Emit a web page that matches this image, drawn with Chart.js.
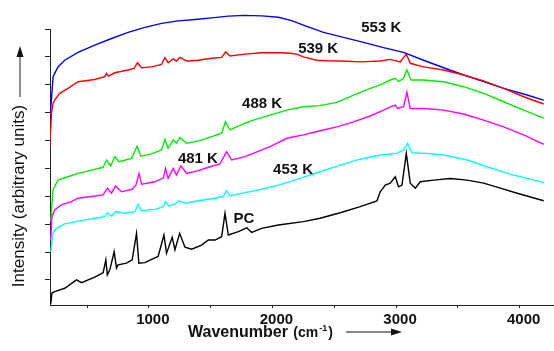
<!DOCTYPE html>
<html>
<head>
<meta charset="utf-8">
<script src="https://cdn.jsdelivr.net/npm/chart.js@4/dist/chart.umd.min.js"></script>
<style>
  html, body { margin: 0; padding: 0; background: #fff; }
  canvas { display: block; }
</style>
</head>
<body>
<canvas id="spectra" width="554" height="351"></canvas>
<script>
// wavenumber (cm-1) and intensity (arbitrary units)
const pcWave = [206, 216, 238, 319, 414, 455, 562, 630, 652, 664, 684, 719, 738, 751, 819, 865, 900, 919, 968, 1022, 1075, 1122, 1143, 1189, 1211, 1249, 1292, 1346, 1427, 1481, 1535, 1589, 1616, 1643, 1724, 1792, 1832, 1913, 2048, 2250, 2386, 2548, 2710, 2845, 2872, 2913, 2953, 2994, 3020, 3048, 3083, 3115, 3156, 3196, 3304, 3439, 3575, 3709, 3844, 3980, 4195];
const pcInt  = [-0.86, -0.47, -0.42, -0.30, 0.00, -0.10, 0.10, 0.26, 0.72, 0.18, 0.36, 1.01, 0.43, 0.54, 0.60, 0.72, 1.67, 0.60, 0.62, 0.74, 0.84, 1.61, 0.96, 1.53, 1.08, 1.67, 1.17, 1.10, 1.25, 1.43, 1.43, 1.55, 2.39, 1.61, 1.73, 1.87, 1.70, 1.85, 1.97, 2.09, 2.21, 2.41, 2.63, 2.83, 3.16, 3.40, 3.47, 3.70, 3.34, 3.40, 4.54, 3.47, 3.29, 3.52, 3.58, 3.64, 3.58, 3.47, 3.29, 3.11, 2.84];

const k453Wave = [206, 224, 252, 319, 427, 562, 643, 665, 698, 730, 805, 887, 913, 941, 1049, 1116, 1135, 1162, 1211, 1243, 1292, 1400, 1535, 1602, 1630, 1656, 1778, 1913, 2048, 2224, 2386, 2548, 2710, 2872, 3007, 3061, 3093, 3129, 3250, 3385, 3575, 3737, 3899, 4061, 4195];
const k453Int  = [1.01, 1.67, 1.85, 2.01, 2.11, 2.21, 2.27, 2.41, 2.29, 2.45, 2.39, 2.45, 2.71, 2.48, 2.53, 2.63, 2.81, 2.65, 2.72, 2.84, 2.75, 2.84, 2.93, 2.99, 3.20, 3.01, 3.13, 3.25, 3.40, 3.64, 3.88, 4.12, 4.33, 4.48, 4.54, 4.66, 4.90, 4.56, 4.54, 4.48, 4.30, 4.06, 3.82, 3.64, 3.50];

const k481Wave = [206, 216, 238, 292, 373, 427, 536, 630, 665, 698, 730, 779, 865, 895, 921, 941, 1049, 1118, 1135, 1156, 1197, 1224, 1259, 1306, 1400, 1481, 1575, 1630, 1670, 1778, 1845, 1981, 2116, 2250, 2386, 2521, 2656, 2791, 2899, 2953, 2994, 3012, 3061, 3088, 3115, 3223, 3385, 3547, 3709, 3871, 4033, 4195];
const k481Int  = [1.43, 2.27, 2.51, 2.69, 2.81, 2.93, 2.99, 3.05, 3.29, 3.11, 3.37, 3.16, 3.25, 3.40, 3.82, 3.43, 3.52, 3.66, 4.00, 3.64, 4.00, 3.76, 4.09, 3.82, 3.92, 4.04, 4.16, 4.60, 4.30, 4.42, 4.54, 4.78, 5.08, 5.20, 5.35, 5.49, 5.67, 5.88, 6.09, 6.21, 6.27, 6.15, 6.21, 6.73, 6.15, 6.15, 6.09, 5.95, 5.73, 5.49, 5.20, 4.86];

const k488Wave = [206, 224, 265, 346, 427, 536, 630, 657, 692, 725, 757, 860, 905, 935, 1022, 1103, 1130, 1156, 1197, 1224, 1251, 1306, 1400, 1508, 1589, 1620, 1656, 1778, 1845, 1981, 2116, 2250, 2386, 2521, 2656, 2791, 2886, 2953, 2994, 3020, 3061, 3088, 3121, 3223, 3385, 3547, 3709, 3871, 4033, 4195];
const k488Int  = [2.08, 3.23, 3.58, 3.70, 3.82, 3.94, 4.04, 4.30, 4.09, 4.42, 4.24, 4.36, 4.80, 4.44, 4.52, 4.66, 5.04, 4.72, 5.02, 4.90, 5.11, 4.90, 4.98, 5.14, 5.26, 5.67, 5.38, 5.62, 5.73, 5.91, 6.09, 6.21, 6.25, 6.37, 6.63, 6.87, 7.02, 7.17, 7.23, 7.11, 7.23, 7.53, 7.17, 7.17, 7.11, 6.93, 6.69, 6.39, 6.09, 5.80];

const k539Wave = [198, 212, 225, 238, 279, 346, 427, 562, 643, 657, 672, 725, 832, 881, 908, 941, 1022, 1103, 1130, 1156, 1197, 1224, 1251, 1306, 1400, 1508, 1589, 1622, 1656, 1778, 1913, 2062, 2143, 2197, 2250, 2359, 2440, 2548, 2710, 2872, 2953, 3034, 3083, 3115, 3223, 3385, 3547, 3709, 3871, 4033, 4195];
const k539Int  = [4.73, 5.97, 6.34, 6.45, 6.69, 6.87, 7.11, 7.19, 7.29, 7.41, 7.31, 7.43, 7.53, 7.59, 7.79, 7.61, 7.64, 7.73, 7.97, 7.79, 7.93, 7.85, 7.98, 7.85, 7.88, 7.95, 7.98, 8.18, 8.03, 8.10, 8.15, 8.15, 8.13, 8.10, 8.00, 7.88, 7.86, 7.85, 7.82, 7.85, 7.91, 7.82, 8.10, 7.77, 7.64, 7.53, 7.35, 7.14, 6.87, 6.57, 6.31];

const k553Wave = [198, 225, 238, 265, 319, 427, 562, 698, 832, 968, 1103, 1237, 1373, 1508, 1643, 1778, 1913, 2048, 2156, 2250, 2413, 2575, 2737, 2899, 3061, 3223, 3385, 3547, 3709, 3871, 4033, 4195];
const k553Int  = [5.67, 7.29, 7.41, 7.64, 7.88, 8.16, 8.42, 8.66, 8.88, 9.06, 9.20, 9.29, 9.34, 9.40, 9.46, 9.49, 9.47, 9.42, 9.30, 9.14, 8.88, 8.70, 8.52, 8.33, 8.16, 7.88, 7.61, 7.35, 7.11, 6.87, 6.67, 6.45];

const seriesNames = ['PC', '453 K', '481 K', '488 K', '539 K', '553 K'];
const xTicks = [500, 1000, 1500, 2000, 2500, 3000, 3500, 4000];
const xTickLabels = ['', '1000', '', '2000', '', '3000', '', '4000'];
const yTicks = [0, 1, 2, 3, 4, 5, 6, 7, 8, 9];

// where each curve's name sits, in data units
const labelWave = [1770, 2167, 1397, 1916, 2370, 2880];
const labelInt  = [2.19, 3.94, 4.34, 6.31, 8.28, 9.03];

const colors = ['#000000', '#00ffff', '#ff00ff', '#00ee00', '#ff0000', '#0000ff'];
const FONT = '"Liberation Sans", Arial, sans-serif';

function pts(w, v) { return w.map((x, i) => ({ x: x, y: v[i] })); }

const allWave = [pcWave, k453Wave, k481Wave, k488Wave, k539Wave, k553Wave];
const allInt = [pcInt, k453Int, k481Int, k488Int, k539Int, k553Int];

const datasets = seriesNames.map((name, i) => ({
  label: name,
  data: pts(allWave[i], allInt[i]),
  borderColor: colors[i],
  borderWidth: 1.4,
  pointRadius: 0,
  tension: 0,
  fill: false,
  clip: { left: 0, top: false, right: false, bottom: 0 }
}));

const overlay = {
  id: 'overlay',
  afterDraw(chart) {
    const ctx = chart.ctx;
    const xs = chart.scales.x, ys = chart.scales.y;
    ctx.save();

    // curve names
    ctx.fillStyle = '#111';
    ctx.font = 'bold 15px ' + FONT;
    ctx.textAlign = 'center';
    ctx.textBaseline = 'middle';
    seriesNames.forEach((n, i) => {
      ctx.fillText(n, xs.getPixelForValue(labelWave[i]), ys.getPixelForValue(labelInt[i]));
    });

    // y title with arrow
    ctx.save();
    ctx.translate(19, 196);
    ctx.rotate(-Math.PI / 2);
    ctx.font = '17px ' + FONT;
    ctx.fillStyle = '#111';
    ctx.fillText('Intensity (arbitrary units)', 0, 0);
    ctx.restore();

    ctx.strokeStyle = '#444';
    ctx.fillStyle = '#111';
    ctx.lineWidth = 1.2;
    ctx.beginPath();
    ctx.moveTo(20, 97); ctx.lineTo(20, 56);
    ctx.stroke();
    ctx.beginPath();
    ctx.moveTo(20, 46); ctx.lineTo(16.5, 57); ctx.lineTo(23.5, 57); ctx.closePath();
    ctx.fill();

    // x title with superscript and arrow
    ctx.textAlign = 'left';
    ctx.textBaseline = 'alphabetic';
    let x = 188;
    const base = 337;
    ctx.font = 'bold 16px ' + FONT;
    ctx.fillText('Wavenumber', x, base);
    x += ctx.measureText('Wavenumber ').width + 1;
    ctx.font = 'bold 14px ' + FONT;
    ctx.fillText('(cm', x, base);
    x += ctx.measureText('(cm').width + 1;
    ctx.font = 'bold 9px ' + FONT;
    ctx.fillText('-1', x, base - 6);
    x += ctx.measureText('-1').width + 1;
    ctx.font = 'bold 14px ' + FONT;
    ctx.fillText(')', x, base);

    ctx.strokeStyle = '#111';
    ctx.beginPath();
    ctx.moveTo(346, 332); ctx.lineTo(392, 332);
    ctx.stroke();
    ctx.beginPath();
    ctx.moveTo(402, 332); ctx.lineTo(391, 328.5); ctx.lineTo(391, 335.5); ctx.closePath();
    ctx.fill();

    ctx.restore();
  }
};

new Chart(document.getElementById('spectra'), {
  type: 'line',
  data: { datasets: datasets },
  options: {
    responsive: false,
    animation: false,
    layout: { padding: { top: 29, right: 1, left: 0, bottom: 0 } },
    plugins: { legend: { display: false }, tooltip: { enabled: false } },
    scales: {
      x: {
        type: 'linear',
        min: 200,
        max: 4270,
        afterBuildTicks: (s) => { s.ticks = xTicks.map(v => ({ value: v })); },
        afterFit: (s) => { s.height = 46; },
        border: { color: '#222', width: 1 },
        grid: { drawOnChartArea: false, drawTicks: true, tickLength: 3, color: '#222' },
        ticks: {
          autoSkip: false,
          maxRotation: 0,
          padding: 3,
          labelOffset: 4,
          color: '#111',
          font: { family: FONT, size: 15, weight: 'bold' },
          callback: (v) => xTickLabels[xTicks.indexOf(v)] || ''
        }
      },
      y: {
        type: 'linear',
        min: -0.9,
        max: 9,
        afterBuildTicks: (s) => { s.ticks = yTicks.map(v => ({ value: v })); },
        afterFit: (s) => { s.width = 50; },
        border: { color: '#222', width: 1 },
        grid: { drawOnChartArea: false, drawTicks: true, tickLength: 5, color: '#222' },
        ticks: { display: false }
      }
    }
  },
  plugins: [overlay]
});
</script>
</body>
</html>
